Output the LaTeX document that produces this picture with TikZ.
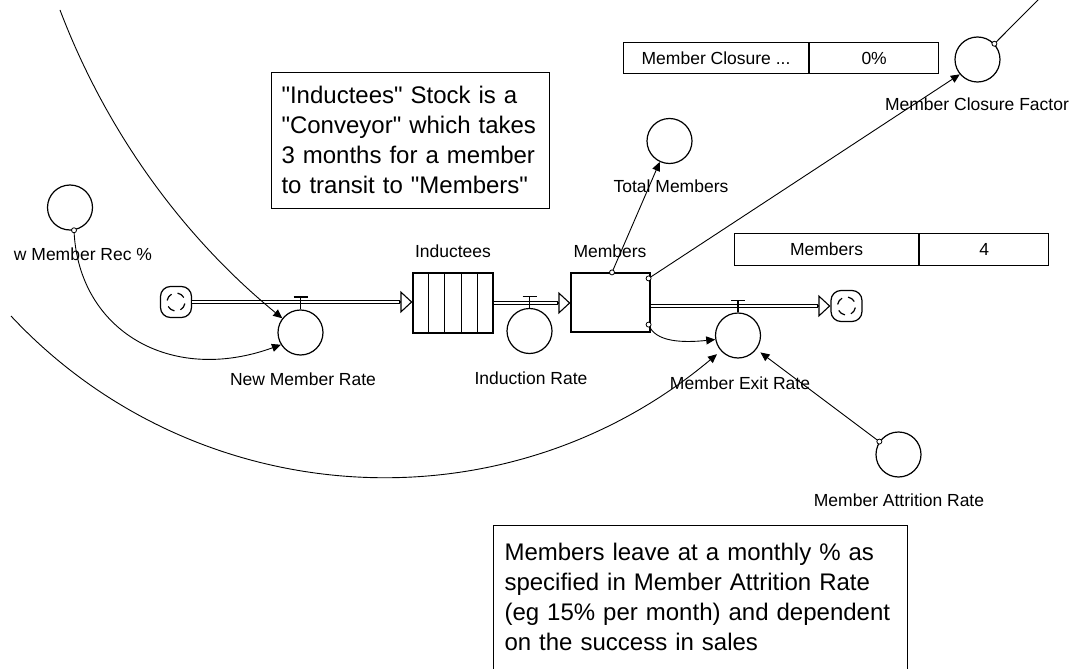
\documentclass[tikz,border=0pt]{standalone}
\usepackage{fontspec}
\setmainfont{Liberation Sans}
\newfontfamily\notefont{Liberation Sans}
\usetikzlibrary{arrows.meta,calc}
\begin{document}
\begin{tikzpicture}[x=1pt,y=-1pt,
  aux/.style={draw,circle,minimum size=45pt,inner sep=0pt,line width=1.2pt},
  lbl/.style={font=\fontsize{17.5}{20}\selectfont,inner sep=0pt},
  stockbox/.style={draw,rectangle,line width=1.2pt,minimum width=79pt,minimum height=59pt,inner sep=0pt},
  cloud/.style={draw,rectangle,rounded corners=10pt,minimum size=31pt,line width=1.2pt,inner sep=0pt,
    path picture={
      \foreach \a in {10,100,190,280}{
        \draw[line width=1.2pt] ($(path picture bounding box.center)+(\a:9)$) arc[start angle=\a, delta angle=50, radius=9];
      }
    }},
  pipe/.style={double,double distance=2.5pt,line width=1.1pt},
  pipehead/.style={-{Triangle[length=12pt,width=22pt,fill=white]},line width=1.1pt},
  valve/.style={line width=1.3pt},
  link/.style={line width=0.9pt,-{Triangle[length=9pt,width=8pt]}},
  plainlink/.style={line width=0.9pt},
  origin/.style={draw,circle,minimum size=5pt,inner sep=0pt,line width=0.8pt,fill=white},
  cell/.style={draw,rectangle,line width=1.1pt,inner sep=0pt,anchor=north west,font=\fontsize{17.5}{20}\selectfont},
  note/.style={draw,rectangle,line width=1.1pt,align=left,anchor=north west,font=\notefont\fontsize{24}{30}\selectfont}
]
\useasboundingbox (0,0) rectangle (1080,669);

% auxiliaries
\node[aux] (rec) at (70,207.5) {};
\node[aux] (nmr) at (300.5,332.5) {};
\node[aux] (ir) at (529.5,331) {};
\node[aux] (mer) at (738,335.5) {};
\node[aux] (tm) at (669.5,141) {};
\node[aux] (mcf) at (977.5,59.5) {};
\node[aux] (mar) at (898.5,454.5) {};

% stocks
\node[stockbox,minimum width=80pt,minimum height=60pt] (ind) at (453,303) {};
\foreach \i in {1,2,3,4}
  \draw[line width=1.2pt] ($(ind.north west)!\i/5!(ind.north east)$) -- ($(ind.south west)!\i/5!(ind.south east)$);
\node[stockbox] (mem) at (610.5,302.5) {};

% clouds
\node[cloud] (lc) at (176,302) {};
\node[cloud] (rc) at (846.5,306) {};

% pipes
\coordinate (p1) at (lc.east -| ind.west);
\draw[pipe] (lc.east) -- ($(p1)+(-12,0)$);
\draw[pipehead] ($(p1)+(-13,0)$) -- (p1);
\coordinate (p2s) at (ind.east);
\coordinate (p2) at (ind.east -| mem.west);
\draw[pipe] (p2s) -- ($(p2)+(-12,0)$);
\draw[pipehead] ($(p2)+(-13,0)$) -- (p2);
\coordinate (p3s) at (rc.west -| mem.east);
\draw[pipe] (p3s) -- ($(rc.west)+(-12,0)$);
\draw[pipehead] ($(rc.west)+(-13,0)$) -- (rc.west);

% valves
\foreach \v/\h in {nmr/12.5,ir/11.5,mer/12}
  \draw[valve] (\v.north) -- ++(0,-\h) ++(-7,0) -- ++(14,0);

% links
\coordinate (ua) at (60,10);
\draw[link] (ua) .. controls (105.5,129.7) and (181.3,235.5) .. (nmr.142);
\coordinate (la) at (11,316);
\draw[link,shorten >=5pt] (la) .. controls (195,513) and (504,533) .. (mer.222);
\coordinate (o1) at (rec.-80);
\draw[link] (o1) .. controls (78,330) and (170,385) .. (nmr.212);
\coordinate (o2) at ($(mem.north)+(1.5,0)$);
\draw[link] (o2) -- (tm.-115);
\coordinate (o3) at ($(mem.north east)+(-2,6)$);
\draw[link] (o3) -- (mcf.220);
\coordinate (o4) at ($(mem.south east)+(-2,-8)$);
\draw[link] (o4) .. controls (655,342) and (682,343) .. (mer.190);
\coordinate (o5) at (mar.146);
\draw[link,shorten >=5pt] (o5) -- (mer.-37);
\coordinate (o6) at (mcf.43);
\coordinate (mcfend) at (1041,-3);
\draw[plainlink] (o6) -- (mcfend);
\foreach \o in {o1,o2,o3,o4,o5,o6}
  \node[origin] (dot\o) at (\o) {};

% labels
\node[lbl] (lrec) at (83,254) {w Member Rec \%};
\node[lbl] (lnmr) at (303,379) {New Member Rate};
\node[lbl] (lind) at (453,251) {Inductees};
\node[lbl] (lmem) at (610,251) {Members};
\node[lbl] (lir) at (531,378) {Induction Rate};
\node[lbl] (lmer) at (740,383) {Member Exit Rate};
\node[lbl] (ltm) at (671,186) {Total Members};
\node[lbl] (lmcf) at (977,104) {Member Closure Factor};
\node[lbl] (lmar) at (899,500) {Member Attrition Rate};

% tables
\node[cell,minimum width=185pt,minimum height=31pt] (mc1) at (623,42) {Member Closure ...};
\node[cell,minimum width=129pt,minimum height=31pt] (mc2) at (mc1.north east) {0\%};
\node[cell,minimum width=184pt,minimum height=32pt] (mt1) at (734,233) {Members};
\node[cell,minimum width=129pt,minimum height=32pt] (mt2) at (mt1.north east) {4};

% comments
\node[note,text width=258pt,inner xsep=10pt,inner ysep=14pt] (c1) at (271,72)
  {\noindent"Inductees" Stock is a\\"Conveyor" which takes\\3 months for a member\\to transit to "Members"};
\node[note,text width=392pt,inner xsep=11pt,inner ysep=17.5pt] (c2) at (493,525)
  {\noindent Members leave at a monthly \% as\\specified in Member Attrition Rate\\(eg 15\% per month) and dependent\\on the success in sales\\ \mbox{}};
\end{tikzpicture}
\end{document}
